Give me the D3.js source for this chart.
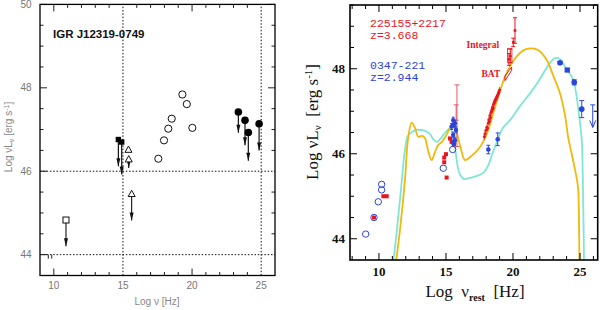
<!DOCTYPE html>
<html>
<head>
<meta charset="utf-8">
<script src="https://cdn.jsdelivr.net/npm/d3@7"></script>
<style>
  body { margin: 0; background: #fff; }
  svg { display: block; }
</style>
</head>
<body>
<svg id="fig" width="600" height="310"></svg>
<script>
// ---------- left panel data (IGR J12319-0749) ----------
const lOpenCircX = [19.30, 19.62, 18.53, 18.28, 17.97, 20.02, 17.56];
const lOpenCircY = [47.84, 47.61, 47.26, 47.02, 46.74, 47.04, 46.30];
const lFillCircX = [23.35, 23.83, 24.07, 24.85];
const lFillCircY = [47.42, 47.22, 46.93, 47.14];
const lFillCircLim = [46.92, 46.62, 46.25, 46.50];
const lSquareX = [14.67, 14.91];
const lSquareY = [46.76, 46.70];
const lSquareLim = [46.12, 45.92];
const lTriX = [15.40, 15.42, 15.63];
const lTriY = [46.52, 46.29, 45.46];
const lTriLim = [null, 46.08, 44.82];
const lOpenSqX = [10.88];
const lOpenSqY = [44.83];
const lOpenSqLim = [44.20];
const lStubX = [9.6, 9.85];

// ---------- right panel data (225155+2217 / 0347-221) ----------
const yellowX = [11.27, 11.57, 11.94, 12.16, 12.44, 12.69, 12.93, 13.21, 13.43, 13.66, 13.93, 14.18, 14.43, 14.70,
  15.05, 15.45, 15.67, 16.04, 16.42, 16.79, 17.16, 17.54, 17.91, 18.28, 18.66, 19.40, 19.93, 20.52, 20.97,
  21.40, 21.87, 22.51, 22.99, 23.51, 23.88, 24.13, 24.40, 24.63, 24.85, 24.93, 24.96];
const yellowY = [43.45, 44.21, 45.38, 46.32, 46.73, 46.61, 46.40, 46.42, 46.37, 46.09, 45.85, 46.04, 46.21, 46.28,
  46.45, 46.68, 46.61, 46.21, 45.85, 45.92, 46.02, 46.16, 46.37, 46.68, 47.10, 47.81, 48.14, 48.37, 48.46,
  48.48, 48.44, 48.21, 47.85, 47.42, 46.91, 46.36, 45.97, 45.62, 45.22, 44.21, 43.45];
const cyanX = [11.07, 11.34, 11.64, 11.94, 12.16, 12.46, 12.76, 13.06, 13.43, 13.81, 14.10, 14.33, 14.63, 14.93,
  15.30, 15.52, 15.75, 15.97, 16.29, 16.79, 17.31, 17.78, 18.13, 18.43, 18.90, 19.25, 19.78, 20.52, 21.27,
  21.87, 22.26, 22.69, 23.13, 23.51, 23.88, 24.25, 24.50, 24.75, 24.93, 25.13, 25.22, 25.30];
const cyanY = [43.45, 44.21, 45.15, 46.09, 46.42, 46.51, 46.56, 46.56, 46.54, 46.46, 46.32, 46.28, 46.37, 46.49,
  46.59, 46.44, 45.97, 45.57, 45.41, 45.43, 45.48, 45.55, 45.71, 45.97, 46.36, 46.61, 46.79, 47.12, 47.42,
  47.69, 47.89, 48.11, 48.25, 48.23, 48.05, 47.88, 47.74, 47.34, 46.91, 46.32, 45.22, 43.45];

const rOpenCircX = [9.01, 9.63, 9.95, 10.20, 10.20, 14.80, 15.50];
const rOpenCircY = [44.11, 44.50, 44.87, 45.15, 45.28, 45.66, 46.10];
const rRedSqX = [9.63, 10.33, 10.58, 14.87, 14.87, 15.00, 15.05, 15.30, 15.42, 15.60];
const rRedSqY = [44.50, 45.00, 45.00, 45.91, 45.80, 45.99, 45.44, 46.36, 46.28, 46.22];
const rBlueOptX = [15.54, 15.67, 15.42, 15.75, 15.54, 15.67, 15.54, 15.60];
const rBlueOptY = [46.79, 46.72, 46.64, 46.56, 46.44, 46.32, 46.25, 46.68];
const rRedBarX = [15.82, 15.76];
const rRedBarY = [46.95, 46.97];
const rRedBarLo = [46.17, 46.79];
const rRedBarHi = [47.62, 47.15];
const rXrayBlueX = [18.16, 18.86];
const rXrayBlueY = [46.10, 46.34];
const rXrayBlueErr = [0.10, 0.15];
const rXrtX = [17.86, 17.92, 17.98, 18.05, 18.10, 18.15, 18.20, 18.24, 18.28, 18.32, 18.36, 18.40, 18.44,
  18.48, 18.52, 18.56, 18.60, 18.65, 18.70, 18.75, 18.80, 18.85, 18.90, 18.95, 19.00];
const rXrtY = [46.40, 46.47, 46.55, 46.62, 46.60, 46.72, 46.80, 46.76, 46.90, 46.85, 46.97, 47.00, 47.05,
  47.10, 47.07, 47.17, 47.20, 47.24, 47.27, 47.30, 47.34, 47.37, 47.42, 47.45, 47.50];
const rIntX = [19.80, 19.70, 20.02, 20.15];
const rIntY = [48.30, 48.22, 48.62, 48.90];
const rIntErr = [0.16, 0.14, 0.10, 0.30];
const rFermiX = [23.51, 24.05, 24.57, 25.13];
const rFermiY = [48.14, 47.97, 47.68, 47.05];
const rFermiErr = [0.03, 0.03, 0.06, 0.20];
const rUlX = [25.95];
const rUlY = [47.15];
const rUlEnd = [46.62];

const RED = "#e8141e", BLUE = "#2a44dc", GOLD = "#f2b80a", CYAN = "#7de6d6";

const svg = d3.select("#fig");
svg.append("rect").attr("width", 600).attr("height", 310).attr("fill", "#fff");

// draw inward ticks on all four sides of a frame
function frameTicks(g, x, y, xMaj, xMin, yMaj, yMin, majLen, minLen, col) {
  const [x0, x1] = x.range(), [y0, y1] = y.range();
  const seg = (a, b, c, d) => g.append("line").attr("x1", a).attr("y1", b).attr("x2", c).attr("y2", d)
    .attr("stroke", col).attr("stroke-width", 1);
  xMaj.forEach(v => { seg(x(v), y0, x(v), y0 - majLen); seg(x(v), y1, x(v), y1 + majLen); });
  xMin.forEach(v => { seg(x(v), y0, x(v), y0 - minLen); seg(x(v), y1, x(v), y1 + minLen); });
  yMaj.forEach(v => { seg(x0, y(v), x0 + majLen, y(v)); seg(x1, y(v), x1 - majLen, y(v)); });
  yMin.forEach(v => { seg(x0, y(v), x0 + minLen, y(v)); seg(x1, y(v), x1 - minLen, y(v)); });
}

function downArrow(g, px, pyA, pyB, col, w) {
  g.append("line").attr("x1", px).attr("y1", pyA).attr("x2", px).attr("y2", pyB)
    .attr("stroke", col).attr("stroke-width", w || 1);
  g.append("path").attr("d", `M${px - 2},${pyB - 8}L${px},${pyB}L${px + 2},${pyB - 8}Z`).attr("fill", col);
}

/************************************************************************
                          LEFT PANEL
************************************************************************/
const xL = d3.scaleLinear().domain([9, 26]).range([40, 275]);
const yL = d3.scaleLinear().domain([43.5, 50]).range([275.5, 4.4]);
const left = svg.append("g");

frameTicks(left, xL, yL, [10, 20], d3.range(10, 26).filter(v => v % 5 !== 0),
  [48, 50], d3.range(44, 50, 0.5).filter(v => v % 2 !== 0), 7, 3.5, "#222");

// dotted guide lines
[15, 25].forEach(v => left.append("line").attr("x1", xL(v)).attr("x2", xL(v))
  .attr("y1", yL(43.5)).attr("y2", yL(50)).attr("stroke", "#111").attr("stroke-dasharray", "1.5,1.8"));
[44, 46].forEach(v => left.append("line").attr("x1", xL(9)).attr("x2", xL(26))
  .attr("y1", yL(v)).attr("y2", yL(v)).attr("stroke", "#111").attr("stroke-dasharray", "1.5,1.8"));
[44, 46].forEach(v => left.append("line").attr("x1", xL(9)).attr("x2", xL(9) + 7)
  .attr("y1", yL(v)).attr("y2", yL(v)).attr("stroke", "#111"));

left.append("rect").attr("x", 40).attr("y", 4.4).attr("width", 235).attr("height", 271.1)
  .attr("fill", "none").attr("stroke", "#000").attr("stroke-width", 1.3);

// tick labels
[44, 46, 48, 50].forEach(v => left.append("text").attr("x", 26).attr("y", yL(v) + 3.5)
  .attr("text-anchor", "middle").attr("font-family", "Liberation Sans, sans-serif")
  .attr("font-size", 10).attr("fill", "#777").text(v));
[10, 15, 20, 25].forEach(v => left.append("text").attr("x", xL(v)).attr("y", 289)
  .attr("text-anchor", "middle").attr("font-family", "Liberation Sans, sans-serif")
  .attr("font-size", 10).attr("fill", "#777").text(v));
const lxt = left.append("text").attr("x", 157).attr("y", 305).attr("text-anchor", "middle")
  .attr("font-family", "Liberation Sans, sans-serif").attr("font-size", 10).attr("fill", "#888");
lxt.append("tspan").text("Log ν  [Hz]");
const lyt = left.append("text").attr("transform", "translate(12,137) rotate(-90)").attr("text-anchor", "middle")
  .attr("font-family", "Liberation Sans, sans-serif").attr("font-size", 10).attr("fill", "#888");
lyt.append("tspan").text("Log νL");
lyt.append("tspan").attr("font-size", 7).attr("dy", 2).text("ν");
lyt.append("tspan").attr("dy", -2).text("  [erg s");
lyt.append("tspan").attr("font-size", 7).attr("dy", -3).text("-1");
lyt.append("tspan").attr("dy", 3).text("]");

left.append("text").attr("x", 53).attr("y", 37.5).attr("font-family", "Liberation Sans, Arial, sans-serif")
  .attr("font-weight", "bold").attr("font-size", 11.5).attr("fill", "#111").text("IGR J12319-0749");

// upper-limit stubs at 44
lStubX.forEach(v => left.append("line").attr("x1", xL(v)).attr("x2", xL(v))
  .attr("y1", yL(44)).attr("y2", yL(44) + 4).attr("stroke", "#222"));

// open circles
left.selectAll(".oc").data(d3.zip(lOpenCircX, lOpenCircY)).join("circle")
  .attr("cx", d => xL(d[0])).attr("cy", d => yL(d[1])).attr("r", 3.6)
  .attr("fill", "none").attr("stroke", "#111").attr("stroke-width", 1);

// filled circles with limit arrows
lFillCircX.forEach((v, i) => {
  downArrow(left, xL(v), yL(lFillCircY[i]), yL(lFillCircLim[i]), "#111", 1.2);
  left.append("circle").attr("cx", xL(v)).attr("cy", yL(lFillCircY[i])).attr("r", 3.8).attr("fill", "#000");
});

// filled squares with arrows
lSquareX.forEach((v, i) => {
  downArrow(left, xL(v), yL(lSquareY[i]), yL(lSquareLim[i]), "#111", 1.2);
  left.append("rect").attr("x", xL(v) - 2.7).attr("y", yL(lSquareY[i]) - 2.7)
    .attr("width", 5.4).attr("height", 5.4).attr("fill", "#000");
});

// open triangles
lTriX.forEach((v, i) => {
  const px = xL(v), py = yL(lTriY[i]);
  if (lTriLim[i] !== null) downArrow(left, px, py + 3, yL(lTriLim[i]), "#111", 1.1);
  left.append("path").attr("d", `M${px},${py - 3.5}L${px + 3.5},${py + 2.8}L${px - 3.5},${py + 2.8}Z`)
    .attr("fill", "#fff").attr("stroke", "#111").attr("stroke-width", 1);
});

// open square
lOpenSqX.forEach((v, i) => {
  const px = xL(v), py = yL(lOpenSqY[i]);
  downArrow(left, px, py, yL(lOpenSqLim[i]), "#111", 1.1);
  left.append("rect").attr("x", px - 3).attr("y", py - 3).attr("width", 6).attr("height", 6)
    .attr("fill", "#fff").attr("stroke", "#111").attr("stroke-width", 1);
});

/************************************************************************
                          RIGHT PANEL
************************************************************************/
const xR = d3.scaleLinear().domain([7.84, 26.32]).range([350, 597.7]);
const yR = d3.scaleLinear().domain([43.5, 49.5]).range([260, 5]);
const right = svg.append("g");

right.append("clipPath").attr("id", "clipR").append("rect")
  .attr("x", 350).attr("y", 5).attr("width", 247.7).attr("height", 255);

const line = d3.line().x(d => xR(d[0])).y(d => yR(d[1])).curve(d3.curveCatmullRom.alpha(0.5));
right.append("path").datum(d3.zip(cyanX, cyanY)).attr("d", line).attr("clip-path", "url(#clipR)")
  .attr("fill", "none").attr("stroke", CYAN).attr("stroke-width", 1.8);
right.append("path").datum(d3.zip(yellowX, yellowY)).attr("d", line).attr("clip-path", "url(#clipR)")
  .attr("fill", "none").attr("stroke", GOLD).attr("stroke-width", 1.8);

function errBar(g, px, pyLo, pyHi, col, cap) {
  g.append("line").attr("x1", px).attr("x2", px).attr("y1", pyLo).attr("y2", pyHi)
    .attr("stroke", col).attr("stroke-width", 1);
  [pyLo, pyHi].forEach(p => g.append("line").attr("x1", px - cap).attr("x2", px + cap)
    .attr("y1", p).attr("y2", p).attr("stroke", col).attr("stroke-width", 1));
}

// open blue circles (radio / optical)
right.selectAll(".boc").data(d3.zip(rOpenCircX, rOpenCircY)).join("circle")
  .attr("cx", d => xR(d[0])).attr("cy", d => yR(d[1])).attr("r", 3.2)
  .attr("fill", "none").attr("stroke", BLUE).attr("stroke-width", 1);

// red filled squares
right.selectAll(".rsq").data(d3.zip(rRedSqX, rRedSqY)).join("rect")
  .attr("x", d => xR(d[0]) - 2).attr("y", d => yR(d[1]) - 2).attr("width", 4).attr("height", 4)
  .attr("fill", RED);

// red error bars in optical/UV cluster
rRedBarX.forEach((v, i) => errBar(right, xR(v), yR(rRedBarLo[i]), yR(rRedBarHi[i]), "#e05a6a", 2.5));

// blue optical/UV points
rBlueOptX.forEach((v, i) => {
  errBar(right, xR(v), yR(rBlueOptY[i] - 0.07), yR(rBlueOptY[i] + 0.07), BLUE, 1.5);
  right.append("circle").attr("cx", xR(v)).attr("cy", yR(rBlueOptY[i])).attr("r", 2.2).attr("fill", BLUE);
});

// blue X-ray points
rXrayBlueX.forEach((v, i) => {
  errBar(right, xR(v), yR(rXrayBlueY[i] - rXrayBlueErr[i]), yR(rXrayBlueY[i] + rXrayBlueErr[i]), BLUE, 2);
  right.append("circle").attr("cx", xR(v)).attr("cy", yR(rXrayBlueY[i])).attr("r", 2.3).attr("fill", BLUE);
});

// red XRT points
rXrtX.forEach((v, i) => {
  const px = xR(v), py = yR(rXrtY[i]);
  right.append("line").attr("x1", px).attr("x2", px).attr("y1", py - 3).attr("y2", py + 3)
    .attr("stroke", RED).attr("stroke-width", 0.8);
  right.append("line").attr("x1", px - 1.5).attr("x2", px + 1.5).attr("y1", py).attr("y2", py)
    .attr("stroke", RED).attr("stroke-width", 0.8);
  right.append("rect").attr("x", px - 1.2).attr("y", py - 1.2).attr("width", 2.4).attr("height", 2.4).attr("fill", RED);
});

// BAT bow-tie
const bat = [[19.40, 47.83], [19.90, 48.04], [19.90, 47.96], [19.40, 47.72]];
right.append("path").attr("d", "M" + bat.map(d => xR(d[0]) + "," + yR(d[1])).join("L") + "Z")
  .attr("fill", "none").attr("stroke", RED).attr("stroke-width", 1);

// Integral points
rIntX.forEach((v, i) => {
  errBar(right, xR(v), yR(rIntY[i] - rIntErr[i]), yR(rIntY[i] + rIntErr[i]), RED, 2);
  right.append("rect").attr("x", xR(v) - 1.3).attr("y", yR(rIntY[i]) - 1.3).attr("width", 2.6).attr("height", 2.6).attr("fill", RED);
});
right.append("rect").attr("x", xR(19.6)).attr("y", yR(48.48)).attr("width", xR(19.92) - xR(19.6))
  .attr("height", yR(48.14) - yR(48.48)).attr("fill", "none").attr("stroke", RED).attr("stroke-width", 0.8);

// Fermi points
rFermiX.forEach((v, i) => {
  errBar(right, xR(v), yR(rFermiY[i] - rFermiErr[i]), yR(rFermiY[i] + rFermiErr[i]), BLUE, 2.5);
  if (i === 1) right.append("rect").attr("x", xR(v) - 2.6).attr("y", yR(rFermiY[i]) - 2.6)
    .attr("width", 5.2).attr("height", 5.2).attr("fill", BLUE);
  else right.append("circle").attr("cx", xR(v)).attr("cy", yR(rFermiY[i])).attr("r", 2.8).attr("fill", BLUE);
});
rUlX.forEach((v, i) => {
  const px = xR(v);
  right.append("line").attr("x1", px - 2.5).attr("x2", px + 2.5).attr("y1", yR(rUlY[i])).attr("y2", yR(rUlY[i]))
    .attr("stroke", BLUE);
  right.append("line").attr("x1", px).attr("x2", px).attr("y1", yR(rUlY[i])).attr("y2", yR(rUlEnd[i]))
    .attr("stroke", BLUE);
  right.append("path").attr("d", `M${px - 3},${yR(rUlEnd[i]) - 7}L${px},${yR(rUlEnd[i])}L${px + 3},${yR(rUlEnd[i]) - 7}`)
    .attr("fill", "none").attr("stroke", BLUE);
});

// frame and ticks
frameTicks(right, xR, yR, [10, 15, 20, 25], d3.range(8, 27).filter(v => v % 5 !== 0),
  [44, 46, 48], d3.range(44, 49.6, 0.5).filter(v => v % 2 !== 0), 7, 4, "#000");
right.append("rect").attr("x", 350).attr("y", 5).attr("width", 247.7).attr("height", 255)
  .attr("fill", "none").attr("stroke", "#000").attr("stroke-width", 1.6);

[44, 46, 48].forEach(v => right.append("text").attr("x", 345).attr("y", yR(v) + 4.5)
  .attr("text-anchor", "end").attr("font-family", "Liberation Serif, serif").attr("font-weight", "bold")
  .attr("font-size", 13).attr("fill", "#111").text(v));
[10, 15, 20, 25].forEach(v => right.append("text").attr("x", xR(v)).attr("y", 275.5)
  .attr("text-anchor", "middle").attr("font-family", "Liberation Serif, serif").attr("font-weight", "bold")
  .attr("font-size", 13).attr("fill", "#111").text(v));

const rxt = right.append("text").attr("x", 475).attr("y", 297).attr("text-anchor", "middle")
  .attr("font-family", "Liberation Serif, serif").attr("font-size", 17).attr("fill", "#111")
  .attr("xml:space", "preserve");
rxt.append("tspan").text("Log  ν");
rxt.append("tspan").attr("font-size", 10).attr("font-weight", "bold").attr("dy", 4).text("rest");
rxt.append("tspan").attr("dy", -4).text("  [Hz]");

const ryt = right.append("text").attr("transform", "translate(318,122) rotate(-90)").attr("text-anchor", "middle")
  .attr("font-family", "Liberation Serif, serif").attr("font-size", 17).attr("fill", "#111")
  .attr("xml:space", "preserve");
ryt.append("tspan").text("Log νL");
ryt.append("tspan").attr("font-size", 11).attr("dy", 3).text("ν");
ryt.append("tspan").attr("dy", -3).text("  [erg s");
ryt.append("tspan").attr("font-size", 11).attr("dy", -6).text("-1");
ryt.append("tspan").attr("dy", 6).text("]");

const mono = "Liberation Mono, monospace";
right.append("text").attr("x", 370).attr("y", 27).attr("font-family", mono).attr("font-size", 11.5)
  .attr("fill", RED).text("225155+2217");
right.append("text").attr("x", 370).attr("y", 39).attr("font-family", mono).attr("font-size", 11.5)
  .attr("fill", RED).text("z=3.668");
right.append("text").attr("x", 370).attr("y", 69).attr("font-family", mono).attr("font-size", 11.5)
  .attr("fill", BLUE).text("0347-221");
right.append("text").attr("x", 370).attr("y", 81).attr("font-family", mono).attr("font-size", 11.5)
  .attr("fill", BLUE).text("z=2.944");
right.append("text").attr("x", 466.5).attr("y", 48).attr("font-family", "Liberation Serif, serif")
  .attr("font-weight", "bold").attr("font-size", 9.5).attr("fill", RED).text("Integral");
right.append("text").attr("x", 481.5).attr("y", 77).attr("font-family", "Liberation Serif, serif")
  .attr("font-weight", "bold").attr("font-size", 9.5).attr("fill", RED).text("BAT");
</script>
</body>
</html>
